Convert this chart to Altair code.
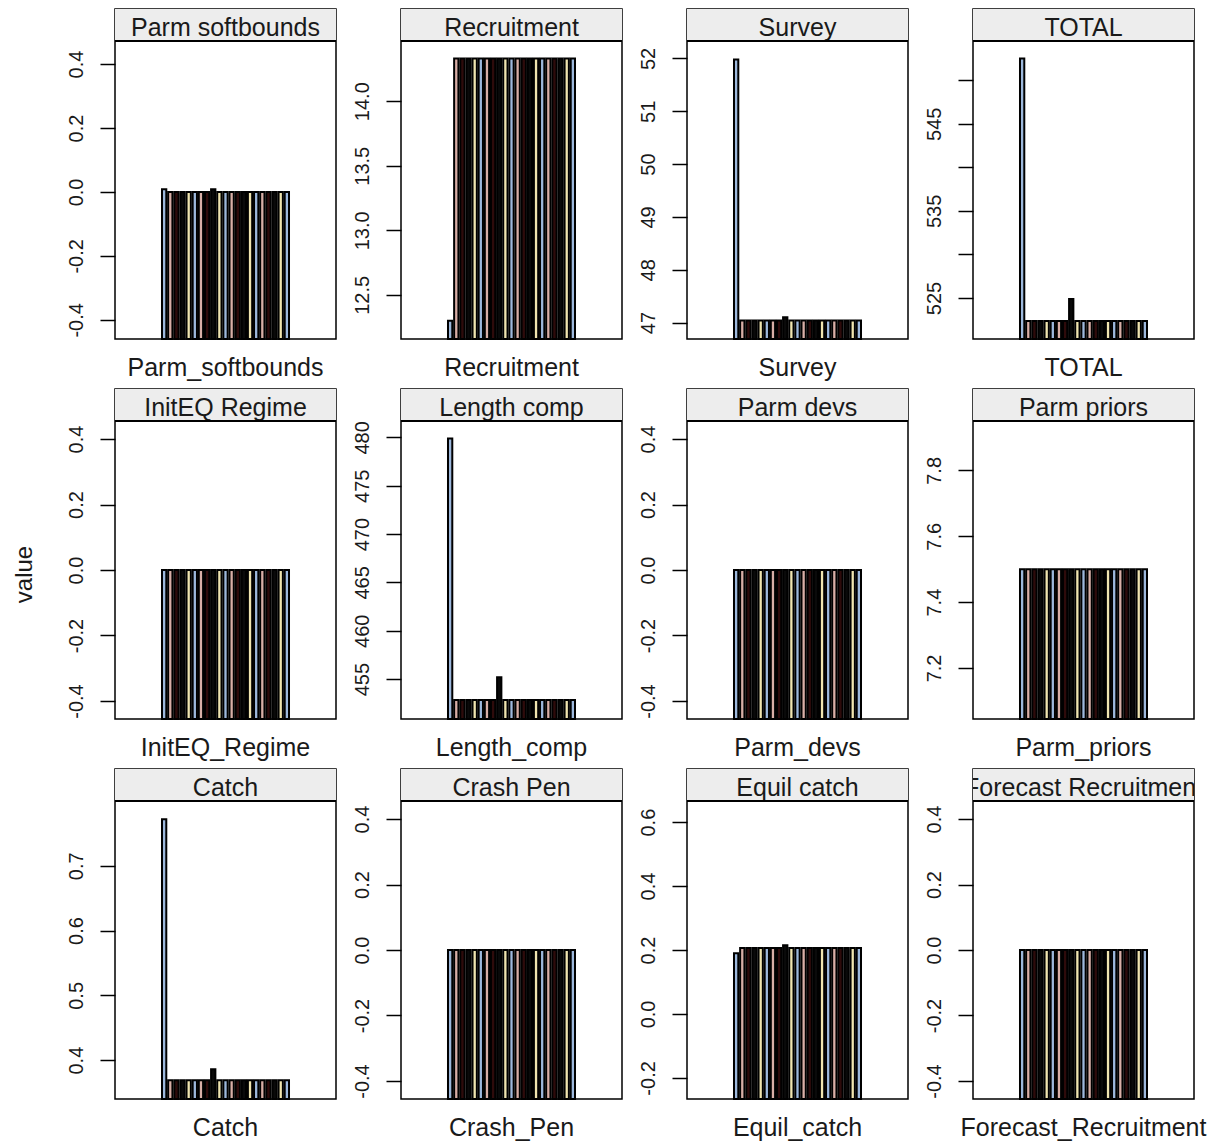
import altair as alt
import pandas as pd

# ---------------- data ----------------
panel_names = ["Parm_softbounds", "Recruitment", "Survey", "TOTAL",
               "InitEQ_Regime", "Length_comp", "Parm_devs", "Parm_priors",
               "Catch", "Crash_Pen", "Equil_catch", "Forecast_Recruitment"]

parm_softbounds = [0.008, 0, 0, 0, 0, 0, 0, 0, 0.008, 0, 0, 0, 0, 0, 0, 0, 0, 0, 0, 0, 0]
recruitment = [12.30, 14.33, 14.33, 14.33, 14.33, 14.33, 14.33, 14.33, 14.33, 14.33, 14.33,
               14.33, 14.33, 14.33, 14.33, 14.33, 14.33, 14.33, 14.33, 14.33, 14.33]
survey = [51.98, 47.04, 47.04, 47.04, 47.04, 47.04, 47.04, 47.04, 47.10, 47.04, 47.04,
          47.04, 47.04, 47.04, 47.04, 47.04, 47.04, 47.04, 47.04, 47.04, 47.04]
total = [552.5, 522.36, 522.36, 522.36, 522.36, 522.36, 522.36, 522.36, 524.9, 522.36, 522.36,
         522.36, 522.36, 522.36, 522.36, 522.36, 522.36, 522.36, 522.36, 522.36, 522.36]
initeq_regime = [0, 0, 0, 0, 0, 0, 0, 0, 0, 0, 0, 0, 0, 0, 0, 0, 0, 0, 0, 0, 0]
length_comp = [479.9, 452.83, 452.83, 452.83, 452.83, 452.83, 452.83, 452.83, 455.2, 452.83, 452.83,
               452.83, 452.83, 452.83, 452.83, 452.83, 452.83, 452.83, 452.83, 452.83, 452.83]
parm_devs = [0, 0, 0, 0, 0, 0, 0, 0, 0, 0, 0, 0, 0, 0, 0, 0, 0, 0, 0, 0, 0]
parm_priors = [7.5, 7.5, 7.5, 7.5, 7.5, 7.5, 7.5, 7.5, 7.5, 7.5, 7.5,
               7.5, 7.5, 7.5, 7.5, 7.5, 7.5, 7.5, 7.5, 7.5, 7.5]
catch = [0.772, 0.369, 0.369, 0.369, 0.369, 0.369, 0.369, 0.369, 0.386, 0.369, 0.369,
         0.369, 0.369, 0.369, 0.369, 0.369, 0.369, 0.369, 0.369, 0.369, 0.369]
crash_pen = [0, 0, 0, 0, 0, 0, 0, 0, 0, 0, 0, 0, 0, 0, 0, 0, 0, 0, 0, 0, 0]
equil_catch = [0.19, 0.206, 0.206, 0.206, 0.206, 0.206, 0.206, 0.206, 0.215, 0.206, 0.206,
               0.206, 0.206, 0.206, 0.206, 0.206, 0.206, 0.206, 0.206, 0.206, 0.206]
forecast_recruitment = [0, 0, 0, 0, 0, 0, 0, 0, 0, 0, 0, 0, 0, 0, 0, 0, 0, 0, 0, 0, 0]

panel_values = [parm_softbounds, recruitment, survey, total,
                initeq_regime, length_comp, parm_devs, parm_priors,
                catch, crash_pen, equil_catch, forecast_recruitment]

# y-axis limits (lattice "free" scales) and tick values per panel
y_domains = [[-0.46, 0.472], [12.158, 14.466], [46.69, 52.33], [520.3, 554.5],
             [-0.455, 0.455], [450.87, 481.7], [-0.455, 0.455], [7.045, 7.95],
             [0.34, 0.80], [-0.455, 0.455], [-0.266, 0.666], [-0.455, 0.455]]
zero_ticks = [-0.4, -0.2, 0.0, 0.2, 0.4]
y_ticks = [zero_ticks, [12.5, 13.0, 13.5, 14.0], [47, 48, 49, 50, 51, 52],
           [525, 530, 535, 540, 545, 550],
           zero_ticks, [455, 460, 465, 470, 475, 480], zero_ticks, [7.2, 7.4, 7.6, 7.8],
           [0.4, 0.5, 0.6, 0.7], zero_ticks, [-0.2, 0.0, 0.2, 0.4, 0.6], zero_ticks]
y_formats = [".1f", ".1f", "d", "d", ".1f", "d", ".1f", ".1f", ".1f", ".1f", ".1f", ".1f"]
total_shown_labels = [525, 535, 545]

# ---------------- styling ----------------
palette = ["#9DB8DC", "#D8AEA6", "#2E0B0B", "#0A0A0A", "#F0E5B0"]
n_bars = len(parm_softbounds)
bar_ids = list(range(n_bars))
bar_colors = [palette[i % len(palette)] for i in bar_ids]

W, H, STRIP = 221, 330, 32
FONT = "Liberation Sans"
TXT = "#1a1a1a"


def make_panel(name, vals, dom, ticks, fmt):
    df = pd.DataFrame({"variable": [name] * len(vals), "group": bar_ids, "value": vals})
    label_expr = "replace(datum.label, '\u2212', '-')"
    if name == "TOTAL":
        label_expr = ("indexof(" + str(total_shown_labels) + ", datum.value) >= 0 ? "
                      + label_expr + " : ''")
    y_axis = alt.Axis(values=ticks, format=fmt, title=None, tickSize=15, tickWidth=1.5,
                      tickColor="black", labelAngle=270, labelAlign="center",
                      labelBaseline="alphabetic", labelPadding=18, labelOverlap=False,
                      labelFlush=False, domain=False, grid=False, labelFontSize=20,
                      labelColor=TXT, labelExpr=label_expr)
    bars = alt.Chart(df).mark_bar(stroke="black", strokeWidth=2).encode(
        x=alt.X("variable:N", title=None,
                scale=alt.Scale(paddingOuter=0.37, paddingInner=0),
                axis=alt.Axis(ticks=False, domain=False, labelAngle=0, labelFontSize=25,
                              labelPadding=16, labelColor=TXT, grid=False, labelLimit=0)),
        xOffset=alt.XOffset("group:O", scale=alt.Scale(paddingInner=0.3, paddingOuter=0)),
        y=alt.Y("value:Q", scale=alt.Scale(domain=dom, range=[H, STRIP], zero=False, nice=False),
                axis=y_axis),
        y2=alt.datum(dom[0]),
        fill=alt.Fill("group:N", scale=alt.Scale(domain=bar_ids, range=bar_colors), legend=None),
    )
    # lattice strip: the underscore of the name is hidden under the strip's lower border
    sdf = pd.DataFrame({"label": [name.replace("_", " ")]})
    strip_bg = alt.Chart(sdf).mark_rect(fill="#EDEDED").encode(
        x=alt.value(0), x2=alt.value(W), y=alt.value(0), y2=alt.value(STRIP))
    strip_txt = alt.Chart(sdf).mark_text(fontSize=25, baseline="alphabetic", align="center",
                                         clip=True, color=TXT).encode(
        text="label:N", x=alt.value(W / 2), y=alt.value(27))
    strip_line = alt.Chart(sdf).mark_rule(color="black", strokeWidth=2).encode(
        x=alt.value(0), x2=alt.value(W), y=alt.value(STRIP))
    return alt.layer(bars, strip_bg, strip_txt, strip_line).properties(width=W, height=H)


panels = [make_panel(n, v, d, t, f) for n, v, d, t, f in
          zip(panel_names, panel_values, y_domains, y_ticks, y_formats)]

chart = alt.concat(*panels, columns=4, spacing={"row": 50, "column": 65}, bounds="flush").properties(
    title=alt.TitleParams("value", orient="left", anchor="middle", fontSize=24,
                          fontWeight="normal", offset=28, color=TXT),
    padding={"left": 5, "top": 0, "right": 0, "bottom": 5},
).configure(font=FONT).configure_view(stroke="black", strokeWidth=1.5)

chart.save("out.html", embed_options={"renderer": "svg", "actions": False})
